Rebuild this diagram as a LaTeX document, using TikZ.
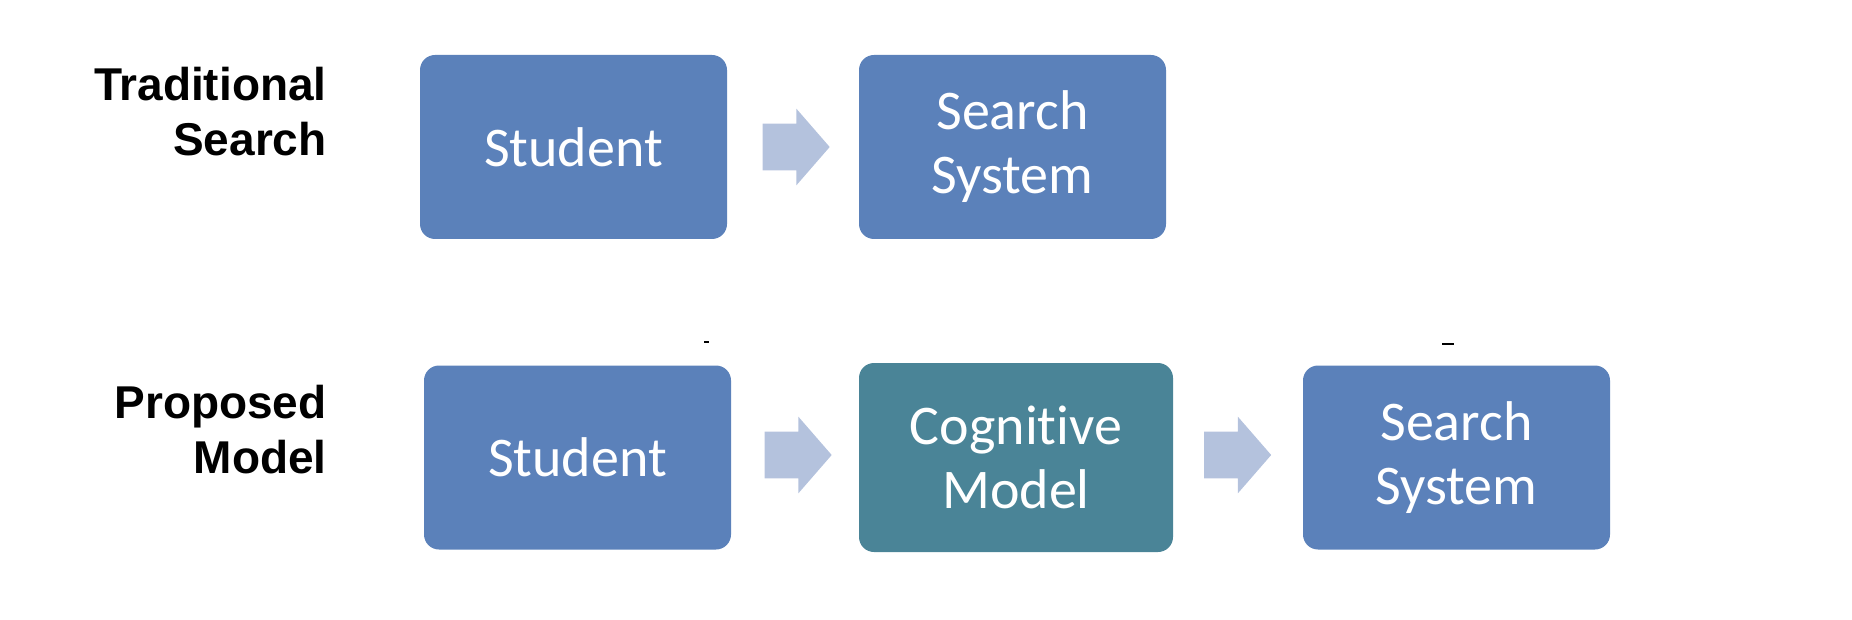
\documentclass[tikz,border=0pt]{standalone}
\usepackage{fontspec}
\setmainfont{Carlito}[Ligatures=NoCommon]
\newfontfamily\labelfont{Liberation Sans}
\usetikzlibrary{shapes.arrows}
\definecolor{boxblue}{HTML}{5B81BA}
\definecolor{boxteal}{HTML}{4A8497}
\definecolor{flowblue}{HTML}{B4C2DD}
\tikzset{
  block/.style={fill=boxblue,rounded corners=7.5pt,minimum width=153.5pt,minimum height=92pt,
    text=white,align=center,inner sep=0pt,font=\fontsize{28}{32}\selectfont},
  cogblock/.style={block,fill=boxteal,minimum width=157pt,minimum height=94.5pt},
  flow/.style={single arrow,fill=flowblue,minimum height=33.5pt,inner xsep=0pt,inner ysep=11.5pt,
    single arrow head extend=7.5pt,single arrow tip angle=98},
  rowlabel/.style={anchor=east,align=right,inner sep=0pt,
    font=\labelfont\bfseries\fontsize{23}{27.5}\selectfont},
}
\begin{document}
\begin{tikzpicture}[x=0.5pt,y=-0.5pt]
      \useasboundingbox (0,0) rectangle (1852,620);
      \coordinate (T1) at (573.5,147);
      \coordinate (T2) at (1012.5,147);
      \coordinate (P1) at (577.5,457.5);
      \coordinate (P2) at (1016,457.5);
      \coordinate (P3) at (1456.5,457.5);

      % row labels
      \node [rowlabel] (tradlabel) at (327,112) {Traditional\\Search};
      \node [rowlabel] (proplabel) at (327,430) {Proposed\\Model};

      % traditional search
      \node [block] (tstudent) at (T1) {Student};
      \node [block] (tsearch) at (T2) {Search\\System};
      \node [flow] (tflow) at (786,147) {};

      % proposed model
      \node [block] (pstudent) at (P1) {Student};
      \node [cogblock] (pcog) at (P2) {Cognitive\\Model};
      \node [block] (psearch) at (P3) {Search\\System};
      \node [flow] (pflowa) at (788,455) {};
      \node [flow] (pflowb) at (1227.5,455) {};

      % stray marks
      % \draw (pstudent.north) -- (pcog.north);
      \draw [line width=1pt] (704,342) -- (709,342);
      \draw [line width=1.2pt] (1442,344) -- (1454,344);
  \end{tikzpicture}
\end{document}
